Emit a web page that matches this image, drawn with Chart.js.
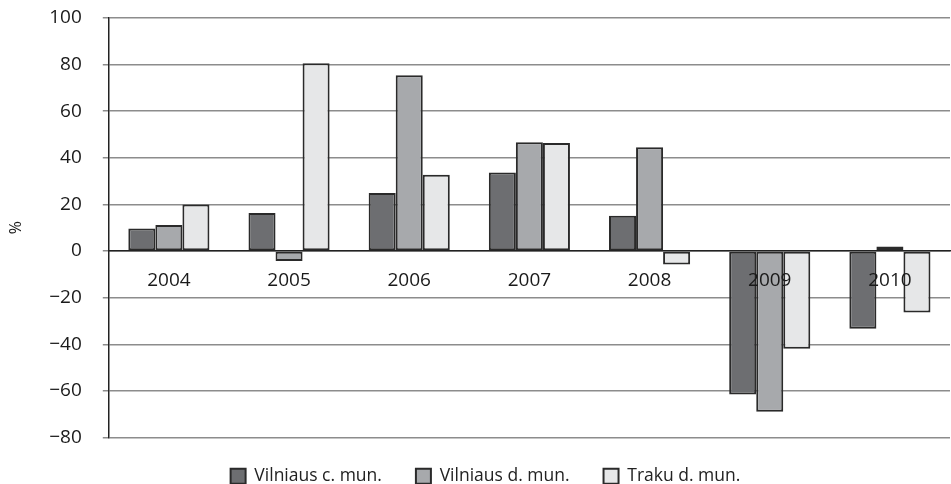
<!DOCTYPE html>
<html>
<head>
<meta charset="utf-8">
<script src="https://cdn.jsdelivr.net/npm/chart.js@4/dist/chart.umd.min.js"></script>
<style>
  html, body { margin: 0; padding: 0; background: #fff; }
  #wrap { width: 951px; height: 484px; }
</style>
</head>
<body>
<div id="wrap"><canvas id="growthChart"></canvas></div>
<script>
// Chart data
const years = ['2004', '2005', '2006', '2007', '2008', '2009', '2010'];
const vilniausMiestas = [9.7, 16.3, 24.9, 33.7, 15.2, -61.5, -33.3];
const vilniausRajonas = [11.2, -4.3, 75.4, 46.7, 44.5, -69.0, 2.0];
const trakuRajonas = [20.0, 80.6, 32.7, 46.4, -5.8, -41.9, -26.4];
const yTicks = [100, 80, 60, 40, 20, 0, -20, -40, -60, -80];

const fontFamily = "'Open Sans', 'DejaVu Sans', sans-serif";

function makeDataset(label, data, fill) {
    return {
        label: label,
        data: data,
        backgroundColor: fill,
        borderColor: '#2a2a2a',
        borderWidth: 2,
        borderSkipped: false,
        categoryPercentage: 0.675,
        barPercentage: 1.0
    };
}

// legend in the original sits a bit right of centre and close to the bottom
const legendShift = {
    id: 'legendShift',
    afterLayout(chart) {
        const lg = chart.legend;
        if (!lg) return;
        lg.left += 7;
        lg.right += 7;
        lg.top -= 4;
        lg.bottom -= 4;
    }
};

const ctx = document.getElementById('growthChart').getContext('2d');
new Chart(ctx, {
    type: 'bar',
    data: {
        labels: years,
        datasets: [
            makeDataset('Vilniaus c. mun.', vilniausMiestas, '#6d6e71'),
            makeDataset('Vilniaus d. mun.', vilniausRajonas, '#a7a9ac'),
            makeDataset('Traku d. mun.', trakuRajonas, '#e6e7e8')
        ]
    },
    options: {
        responsive: true,
        maintainAspectRatio: false,
        animation: false,
        layout: { padding: { top: 18, right: 1, left: 7, bottom: -15 } },
        plugins: {
            tooltip: { enabled: false },
            legend: {
                position: 'bottom',
                labels: {
                    boxWidth: 15,
                    boxHeight: 15,
                    padding: 34,
                    color: '#222',
                    font: { family: fontFamily, size: 17.5 }
                }
            }
        },
        scales: {
            x: {
                position: { y: 0 },
                grid: { display: false, drawTicks: false },
                border: { display: true, color: '#222', width: 1.5, z: 1 },
                ticks: {
                    z: 1,
                    color: '#1a1a1a',
                    padding: 18,
                    maxRotation: 0,
                    font: { family: fontFamily, size: 19 }
                }
            },
            y: {
                min: -80,
                max: 100,
                afterBuildTicks: function(scale) {
                    scale.ticks = yTicks.map(v => ({ value: v }));
                },
                afterFit: function(scale) {
                    // the tick padding should not push the plot down
                    scale.paddingTop = 0;
                },
                grid: {
                    color: '#8c8c8c',
                    lineWidth: 1.5,
                    tickLength: 6,
                    tickColor: '#8c8c8c'
                },
                border: { display: true, color: '#222', width: 1.5 },
                ticks: {
                    color: '#1a1a1a',
                    padding: 21,
                    font: { family: fontFamily, size: 19 },
                    callback: function(value) {
                        return String(value).replace('-', '\u2212');
                    }
                },
                title: {
                    display: true,
                    text: '%',
                    color: '#1a1a1a',
                    padding: { top: 0, bottom: 2 },
                    font: { family: fontFamily, size: 16 }
                }
            }
        }
    },
    plugins: [legendShift]
});
</script>
</body>
</html>
